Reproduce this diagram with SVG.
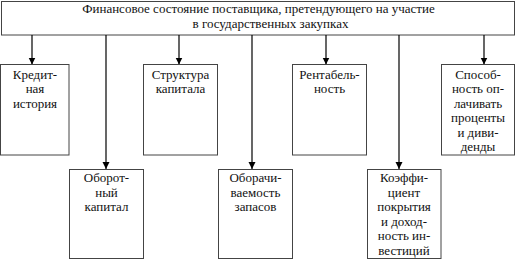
<svg xmlns="http://www.w3.org/2000/svg" width="516" height="260" viewBox="0 0 516 260">
<style>
.box{fill:#fff;stroke:#444;stroke-width:1}
.t{font-family:"Liberation Serif","Times New Roman",serif;font-size:13px;fill:#111;text-anchor:middle}
.c{stroke:#000;stroke-width:1.2;fill:none}
</style>
<defs>
<marker id="ah" markerWidth="7" markerHeight="8" refX="7" refY="4" orient="auto" markerUnits="userSpaceOnUse">
<path d="M0,0.5 L7,4 L0,7.5 Z" fill="#000"/>
</marker>
</defs>
<rect width="516" height="260" fill="#fff"/>
<g id="top">
<rect class="box" x="1.5" y="1.5" width="513" height="33.5"/>
<text class="t" x="258.5" y="12.5">Финансовое состояние поставщика, претендующего на участие</text>
<text class="t" x="270.5" y="27.5">в государственных закупках</text>
</g>
<g id="connectors">
<line class="c" x1="32" y1="35" x2="32" y2="64.5" marker-end="url(#ah)"/>
<line class="c" x1="106" y1="35" x2="106" y2="169" marker-end="url(#ah)"/>
<line class="c" x1="179" y1="35" x2="179" y2="64.5" marker-end="url(#ah)"/>
<line class="c" x1="252" y1="35" x2="252" y2="169" marker-end="url(#ah)"/>
<line class="c" x1="326" y1="35" x2="326" y2="64.5" marker-end="url(#ah)"/>
<line class="c" x1="399" y1="35" x2="399" y2="169" marker-end="url(#ah)"/>
<line class="c" x1="484" y1="35" x2="484" y2="64.5" marker-end="url(#ah)"/>
</g>
<g id="n1">
<rect class="box" x="0.5" y="64.5" width="68.5" height="90.5"/>
<text class="t" x="35" y="78.5">Кредит-</text>
<text class="t" x="35" y="93">ная</text>
<text class="t" x="35" y="107.5">история</text>
</g>
<g id="n2">
<rect class="box" x="69.5" y="169.5" width="74" height="89"/>
<text class="t" x="106.5" y="182">Оборот-</text>
<text class="t" x="106.5" y="196.5">ный</text>
<text class="t" x="106.5" y="211">капитал</text>
</g>
<g id="n3">
<rect class="box" x="143.5" y="64.5" width="74" height="90.5"/>
<text class="t" x="180.5" y="78.5">Структура</text>
<text class="t" x="180.5" y="93">капитала</text>
</g>
<g id="n4">
<rect class="box" x="218.5" y="169.5" width="74" height="89"/>
<text class="t" x="255.5" y="182">Оборачи-</text>
<text class="t" x="255.5" y="196.5">ваемость</text>
<text class="t" x="255.5" y="211">запасов</text>
</g>
<g id="n5">
<rect class="box" x="292.5" y="64.5" width="74" height="90.5"/>
<text class="t" x="329.5" y="78.5">Рентабель-</text>
<text class="t" x="329.5" y="93">ность</text>
</g>
<g id="n6">
<rect class="box" x="367.5" y="169.5" width="73.5" height="89"/>
<text class="t" x="404" y="182">Коэффи-</text>
<text class="t" x="404" y="196.5">циент</text>
<text class="t" x="404" y="211">покрытия</text>
<text class="t" x="404" y="225.5">и доход-</text>
<text class="t" x="404" y="240">ность ин-</text>
<text class="t" x="404" y="254.5">вестиций</text>
</g>
<g id="n7">
<rect class="box" x="441.5" y="64.5" width="73" height="90.5"/>
<text class="t" x="478" y="78.5">Способ-</text>
<text class="t" x="478" y="93">ность оп-</text>
<text class="t" x="478" y="107.5">лачивать</text>
<text class="t" x="478" y="122">проценты</text>
<text class="t" x="478" y="136.5">и диви-</text>
<text class="t" x="478" y="151">денды</text>
</g>
</svg>
